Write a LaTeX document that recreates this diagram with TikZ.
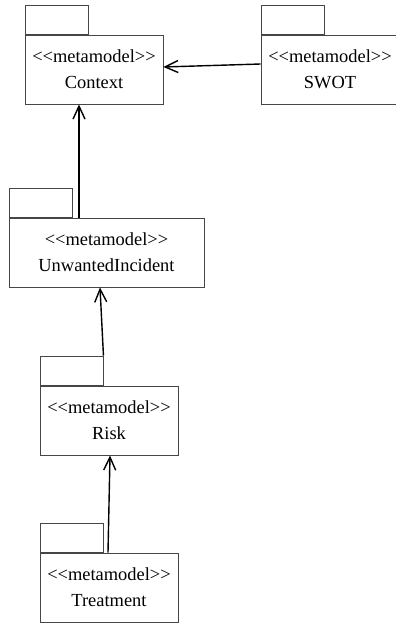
\documentclass[tikz,border=0pt]{standalone}
\usepackage{fontspec}
\setmainfont{Liberation Serif}
\usepackage{tikz}
\usetikzlibrary{positioning,arrows.meta}
\definecolor{boxline}{RGB}{70,70,70}
\newcommand{\mmtag}{<\kern0pt<metamodel>\kern0pt>}

\begin{document}
\begin{tikzpicture}[x=1bp, y=-1bp,
  pkgbody/.style={draw=boxline, line width=0.9bp, minimum height=69bp,
    inner sep=0pt, align=center, font=\fontsize{18.5}{26}\selectfont},
  pkgtab/.style={draw=boxline, line width=0.9bp, minimum width=63bp,
    minimum height=29bp, inner sep=0pt},
  depend/.style={line width=1.4bp, -{Straight Barb[length=13bp, width=12bp]}}]
  \useasboundingbox (0,0) rectangle (395,624);

  % Packages: name / centre x / centre y / width / label
  \foreach \nm/\cx/\cy/\w/\lab in {
    ctx/94/69.5/138/Context, swot/330/69.5/138/SWOT,
    unw/106.5/252.5/195/UnwantedIncident, risk/109/420.5/138/Risk,
    treat/109/587.5/138/Treatment%
  }{
    \node[pkgbody, minimum width=\w bp] (\nm) at (\cx,\cy) {\mmtag\\\lab};
    \node[pkgtab, anchor=south west] (\nm-tab) at (\nm.north west) {};
  }

  % Dependencies
  \draw[depend] ([yshift=5.5bp]swot.west) -- ([yshift=2.5bp]ctx.east);
  \draw[depend] ([xshift=-15bp]unw.north -| ctx.south) -- ([xshift=-15bp]ctx.south);
  \draw[depend] (risk-tab.north east) -- ([xshift=-6.5bp]unw.south);
  \draw[depend] ([xshift=-1bp]treat.north) -- ([xshift=1bp]risk.south);
\end{tikzpicture}
\end{document}
